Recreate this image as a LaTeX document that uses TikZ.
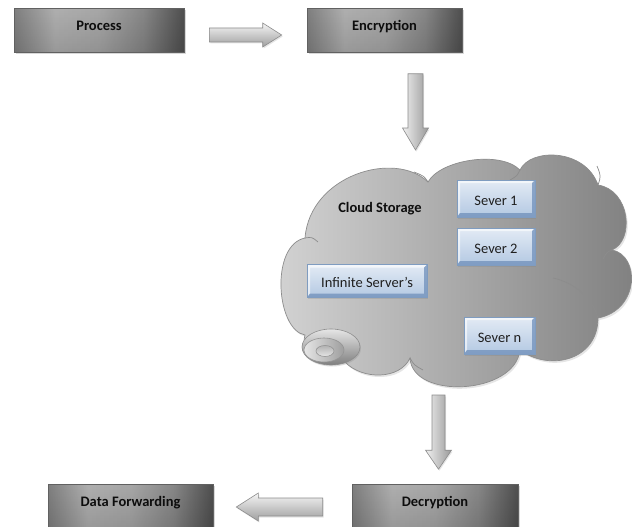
\documentclass[tikz,border=0pt]{standalone}
\usepackage{fontspec}
\setmainfont{Carlito}
\usetikzlibrary{calc,shadows,fadings}

\definecolor{srvtop}{HTML}{E3EBF5}
\definecolor{srvbot}{HTML}{B3C8E2}
\definecolor{srvline}{HTML}{7F9CC0}
\definecolor{srvdark}{HTML}{6F8FBA}

% grey process boxes: darker at the left and right edges, light left of centre
\pgfdeclarehorizontalshading{boxshade}{100bp}{color(0bp)=(black!36); color(25bp)=(black!36); color(37bp)=(black!12); color(50bp)=(black!16); color(63bp)=(black!32); color(75bp)=(black!60); color(100bp)=(black!60)}
\tikzfading[name=edgefade, top color=transparent!78, middle color=transparent!100, bottom color=transparent!68]

% bevelled rim of the blue server boxes
\newcommand\srvbevel{%
  \path (path picture bounding box.north west) coordinate (bvnw)
        (path picture bounding box.north east) coordinate (bvne)
        (path picture bounding box.south west) coordinate (bvsw)
        (path picture bounding box.south east) coordinate (bvse);
  \fill[white, opacity=0.6] (bvnw) -- (bvne) -- ([shift={(-3pt,-3pt)}]bvne)
     -- ([shift={(3pt,-3pt)}]bvnw) -- ([shift={(3pt,4pt)}]bvsw) -- (bvsw) -- cycle;
  \fill[srvdark, opacity=0.75] (bvse) -- (bvsw) -- ([shift={(3pt,4pt)}]bvsw)
     -- ([shift={(-3pt,4pt)}]bvse) -- ([shift={(-3pt,-3pt)}]bvne) -- (bvne) -- cycle;
}

% block arrow from #1 to the tip #2: shaft half width #3, head half width #4, head length #5
\newcommand\blockarrow[6]{%
  \coordinate (ba-h) at ($(#2)!#5!(#1)$);
  \path[#6] ($(#1)!#3!90:(#2)$) -- ($(ba-h)!#3!-90:(#1)$) -- ($(ba-h)!#4!-90:(#1)$)
     -- (#2) -- ($(ba-h)!#4!90:(#1)$) -- ($(ba-h)!#3!90:(#1)$) -- ($(#1)!#3!-90:(#2)$) -- cycle;
}

\begin{document}
\begin{tikzpicture}[x=1pt, y=-1pt,
  lbl/.style={font=\fontsize{14.5}{17}\selectfont\bfseries, text=black!95},
  proc/.style={rectangle, minimum height=44pt, draw=black!62, line width=0.6pt,
    shading=boxshade, font=\fontsize{14.5}{17}\selectfont\bfseries, text=black!95,
    text height=9pt, text depth=9pt, inner sep=0pt,
    drop shadow={shadow xshift=1.5pt, shadow yshift=-2pt, opacity=0.3},
    path picture={\fill[black, path fading=edgefade] (path picture bounding box.south west) rectangle (path picture bounding box.north east);}},
  srv/.style={rectangle, minimum height=37pt, draw=srvline, line width=0.7pt,
    top color=srvtop, bottom color=srvbot, font=\fontsize{14.5}{17}\selectfont,
    text=black!88, text height=13.5pt, text depth=0pt, inner sep=0pt,
    drop shadow={shadow xshift=1pt, shadow yshift=-1.5pt, opacity=0.25},
    path picture={\srvbevel}},
  harrow/.style={draw=black!45, line width=0.6pt, top color=black!4, bottom color=black!38,
    drop shadow={shadow xshift=1pt, shadow yshift=-1.5pt, opacity=0.2}},
  varrow/.style={draw=black!45, line width=0.6pt, left color=black!6, right color=black!40,
    drop shadow={shadow xshift=1pt, shadow yshift=-1.5pt, opacity=0.2}},
  crease/.style={draw=black!45, line width=0.7pt}
]
\useasboundingbox (0,0) rectangle (632,527);
\fill[white] (0,0) rectangle (632,527);

% the cloud
\path[draw=black!45, line width=0.7pt, left color=black!17, right color=black!50,
      drop shadow={shadow xshift=1.5pt, shadow yshift=-2pt, opacity=0.2}]
  (305,335) .. controls (276,330) and (270,245) .. (305,238)
  .. controls (310,175) and (395,150) .. (428,182)
  .. controls (440,160) and (500,150) .. (520,170)
  .. controls (530,148) and (585,148) .. (598,185)
  .. controls (630,190) and (635,240) .. (612,250)
  .. controls (640,255) and (640,310) .. (598,318)
  .. controls (598,360) and (550,372) .. (520,350)
  .. controls (515,395) and (412,400) .. (410,358)
  .. controls (400,380) and (362,380) .. (345,362)
  .. controls (320,365) and (300,352) .. (305,335) -- cycle;
\draw[crease] (305,238) .. controls (312,237) .. (318,242);
\draw[crease] (428,182) .. controls (424,176) .. (414,172);
\draw[crease] (520,170) .. controls (517,176) .. (510,180);
\draw[crease] (598,185) .. controls (601,176) .. (597,166);
\draw[crease] (612,250) .. controls (607,252) .. (603,259);
\draw[crease] (598,318) .. controls (592,296) and (572,282) .. (553,278);
\draw[crease] (520,350) .. controls (518,344) .. (512,340);
\draw[crease] (410,358) .. controls (414,365) .. (423,370);

% small lobe at the lower left of the cloud
\path[draw=black!45, line width=0.6pt, top color=black!10, bottom color=black!50,
      drop shadow={shadow xshift=1pt, shadow yshift=-1.5pt, opacity=0.25}]
  (331,347) ellipse [x radius=29pt, y radius=18pt];
\path[draw=black!42, line width=0.6pt, left color=black!10, right color=black!38]
  (324,350) ellipse [x radius=20pt, y radius=12pt];
\path[draw=black!42, line width=0.6pt, top color=black!30, bottom color=black!10]
  (325,351) ellipse [x radius=9pt, y radius=5.5pt];

\coordinate (cloudtop) at (415.5,176);
\coordinate (cloudbot) at (438.5,386);
\node[lbl] (cloudlabel) at (380,209) {Cloud Storage};

% servers inside the cloud
\node[srv, minimum width=78pt] (s1) at (496,198.5) {Sever 1};
\node[srv, minimum width=78pt] (s2) at (496,246.5) {Sever 2};
\node[srv, minimum width=71pt] (sn) at (499.5,335.5) {Sever n};
\node[srv, minimum width=120pt, minimum height=33pt] (inf) at (367,281) {Infinite Server’s};

% process boxes
\node[proc, minimum width=170pt] (process) at (99,30.5) {Process};
\node[proc, minimum width=155pt] (enc) at (384.5,30.5) {Encryption};
\node[proc, minimum width=166pt] (dec) at (435,506) {Decryption};
\node[proc, minimum width=165pt] (fwd) at (130.5,506) {Data Forwarding};

% block arrows between the stages
\coordinate (h1s) at ([xshift=25pt, yshift=-4.5pt]process.east);
\coordinate (h1e) at ([xshift=-25pt, yshift=-4.5pt]enc.west);
\blockarrow{h1s}{h1e}{7pt}{12pt}{19pt}{harrow}

\coordinate (v1s) at ([xshift=31pt, yshift=-21pt]enc.south);
\coordinate (v1e) at ([yshift=26pt]cloudtop);
\blockarrow{v1s}{v1e}{7.5pt}{13pt}{22pt}{varrow}

\coordinate (v2s) at ([yshift=-9pt]cloudbot);
\coordinate (v2e) at ([xshift=3.5pt, yshift=14.5pt]dec.north);
\blockarrow{v2s}{v2e}{6.5pt}{13pt}{19pt}{varrow}

\coordinate (h2s) at ([xshift=-29pt, yshift=-1pt]dec.west);
\coordinate (h2e) at ([xshift=23pt, yshift=-1pt]fwd.east);
\blockarrow{h2s}{h2e}{9pt}{14pt}{22pt}{harrow}
\end{tikzpicture}
\end{document}
